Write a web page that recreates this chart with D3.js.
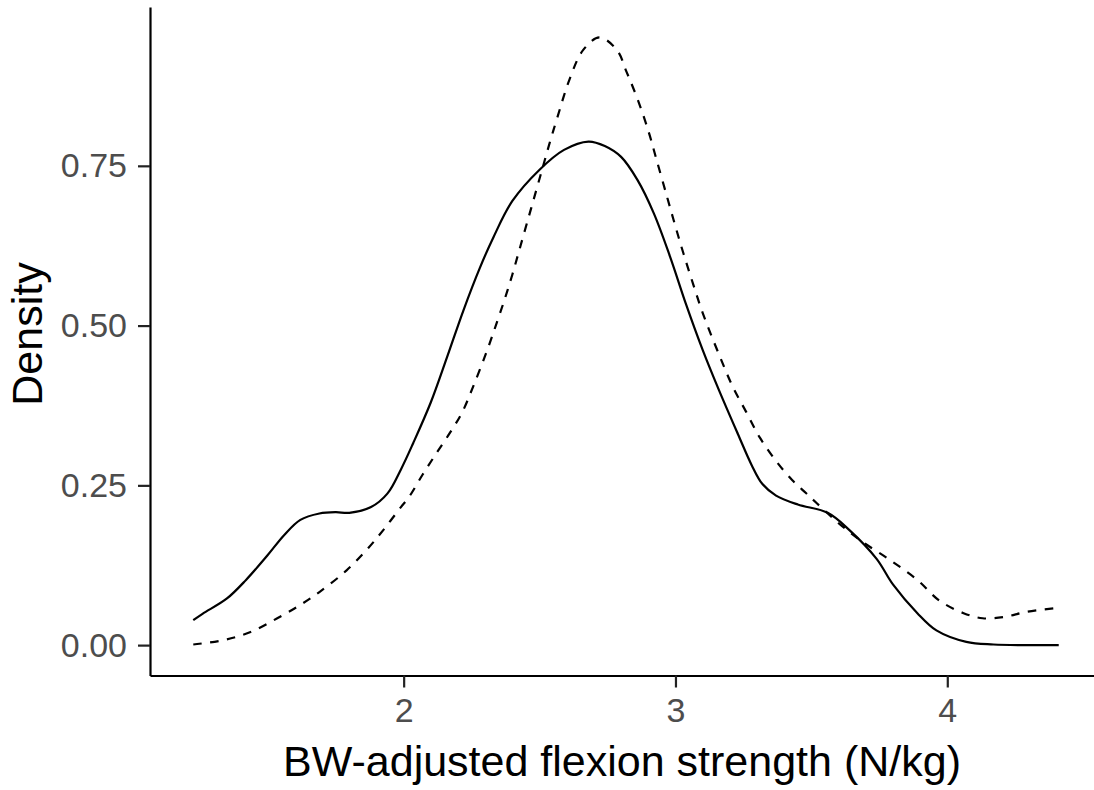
<!DOCTYPE html>
<html>
<head>
<meta charset="utf-8">
<script src="https://cdn.jsdelivr.net/npm/d3@7"></script>
<style>
  html, body { margin: 0; padding: 0; background: #ffffff; }
  svg { display: block; }
</style>
</head>
<body>
<svg id="chart" width="1094" height="790"></svg>
<script>
// ---- Data ----
const solidX = [1.226, 1.26, 1.35, 1.42, 1.50, 1.56, 1.62, 1.69, 1.75, 1.80, 1.88, 1.94, 1.99, 2.035, 2.10, 2.16, 2.22, 2.28, 2.33, 2.40, 2.50, 2.59, 2.68, 2.74, 2.80, 2.86, 2.92, 2.98, 3.04, 3.10, 3.16, 3.23, 3.28, 3.32, 3.37, 3.45, 3.56, 3.64, 3.74, 3.80, 3.89, 3.96, 4.07, 4.17, 4.30, 4.41];
const solidY = [0.039, 0.049, 0.073, 0.102, 0.141, 0.172, 0.196, 0.206, 0.208, 0.207, 0.216, 0.237, 0.275, 0.316, 0.380, 0.451, 0.524, 0.590, 0.638, 0.695, 0.744, 0.775, 0.788, 0.781, 0.764, 0.728, 0.676, 0.608, 0.532, 0.462, 0.399, 0.330, 0.282, 0.252, 0.234, 0.220, 0.207, 0.180, 0.135, 0.095, 0.050, 0.023, 0.005, 0.001, 0.000, 0.000];

const dashedX = [1.226, 1.34, 1.44, 1.535, 1.62, 1.69, 1.79, 1.87, 1.925, 1.99, 2.02, 2.07, 2.12, 2.17, 2.215, 2.256, 2.306, 2.343, 2.373, 2.40, 2.43, 2.47, 2.51, 2.54, 2.565, 2.61, 2.66, 2.72, 2.785, 2.82, 2.86, 2.90, 2.93, 2.97, 3.00, 3.03, 3.065, 3.10, 3.16, 3.21, 3.26, 3.31, 3.37, 3.43, 3.48, 3.52, 3.60, 3.68, 3.79, 3.89, 3.97, 4.06, 4.13, 4.21, 4.29, 4.40];
const dashedY = [0.001, 0.008, 0.021, 0.042, 0.063, 0.083, 0.117, 0.152, 0.180, 0.216, 0.232, 0.267, 0.300, 0.332, 0.364, 0.405, 0.460, 0.505, 0.543, 0.580, 0.625, 0.685, 0.745, 0.790, 0.825, 0.885, 0.931, 0.951, 0.931, 0.897, 0.855, 0.805, 0.760, 0.700, 0.655, 0.612, 0.565, 0.520, 0.455, 0.405, 0.365, 0.325, 0.288, 0.258, 0.238, 0.222, 0.191, 0.164, 0.133, 0.102, 0.070, 0.050, 0.042, 0.044, 0.052, 0.058];

const xTicks = [2, 3, 4];
const yTicks = [0.00, 0.25, 0.50, 0.75];
const xTitle = "BW-adjusted flexion strength (N/kg)";
const yTitle = "Density";

// ---- Layout ----
const svg = d3.select("#chart");
const panel = { left: 150, right: 1102, top: 7, bottom: 675.5 };

const xMin = d3.min([...solidX, ...dashedX]);
const xMax = d3.max([...solidX, ...dashedX]);
const yMin = 0;
const yMax = d3.max([...solidY, ...dashedY]);
const xPad = (xMax - xMin) * 0.05;
const yPad = (yMax - yMin) * 0.05;

const x = d3.scaleLinear().domain([xMin - xPad, xMax + xPad]).range([panel.left, panel.right]);
const y = d3.scaleLinear().domain([yMin - yPad, yMax + yPad]).range([panel.bottom, panel.top]);

const font = "'Liberation Sans', Arial, Helvetica, sans-serif";

// ---- Curves ----
const line = d3.line()
  .x(d => x(d[0]))
  .y(d => y(d[1]))
  .curve(d3.curveCatmullRom.alpha(0.5));

const solidData = solidX.map((v, i) => [v, solidY[i]]);
const dashedData = dashedX.map((v, i) => [v, dashedY[i]]);

svg.append("path")
  .datum(dashedData)
  .attr("d", line)
  .attr("fill", "none")
  .attr("stroke", "#000")
  .attr("stroke-width", 2.2)
  .attr("stroke-dasharray", "8.5,8.5");

svg.append("path")
  .datum(solidData)
  .attr("d", line)
  .attr("fill", "none")
  .attr("stroke", "#000")
  .attr("stroke-width", 2.2);

// ---- Axes ----
const yAxis = d3.axisLeft(y)
  .tickValues(yTicks)
  .tickFormat(d3.format(".2f"))
  .tickSize(12)
  .tickSizeOuter(0)
  .tickPadding(11);

const gy = svg.append("g")
  .attr("transform", `translate(${panel.left},0)`)
  .call(yAxis);

const xAxis = d3.axisBottom(x)
  .tickValues(xTicks)
  .tickFormat(d3.format("d"))
  .tickSize(12)
  .tickSizeOuter(0)
  .tickPadding(10);

const gx = svg.append("g")
  .attr("transform", `translate(0,${panel.bottom})`)
  .call(xAxis);

[gx, gy].forEach(g => {
  g.select(".domain").attr("stroke", "#000").attr("stroke-width", 2.2);
  g.selectAll(".tick line").attr("stroke", "#222").attr("stroke-width", 2.2);
  g.selectAll(".tick text")
    .attr("fill", "#4D4D4D")
    .style("font-family", font)
    .style("font-size", "34px");
});

// ---- Titles ----
svg.append("text")
  .attr("x", 622)
  .attr("y", 776)
  .attr("text-anchor", "middle")
  .style("font-family", font)
  .style("font-size", "43px")
  .attr("fill", "#000")
  .text(xTitle);

svg.append("text")
  .attr("transform", `translate(42,334) rotate(-90)`)
  .attr("text-anchor", "middle")
  .style("font-family", font)
  .style("font-size", "43px")
  .attr("fill", "#000")
  .text(yTitle);
</script>
</body>
</html>
